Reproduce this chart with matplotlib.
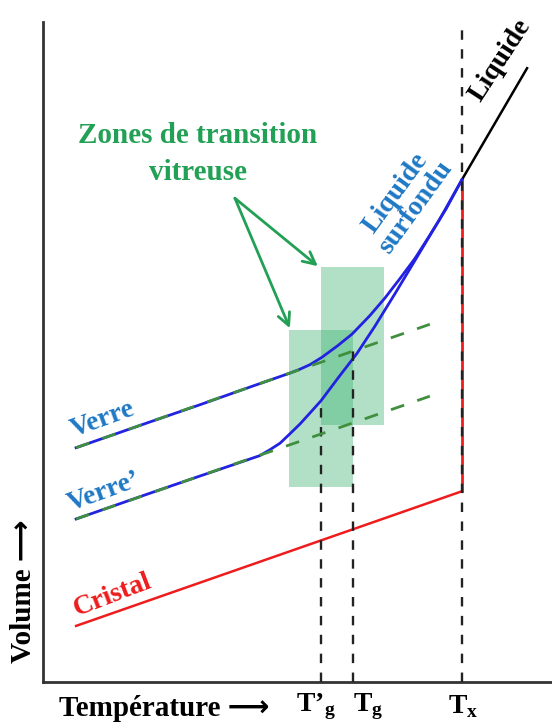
import numpy as np
import matplotlib
matplotlib.use("Agg")
import matplotlib.pyplot as plt
from matplotlib.patches import Rectangle

# values (T and V on a 0-100 scale)
T_PRIME_G = 54.6
T_G = 60.9
T_X = 82.3

# cristal line
cristal_T = [6.5, 82.3]
cristal_V = [8.5, 28.9]

# liquid line above Tx
liquide_T = [82.3, 95.1]
liquide_V = [76.1, 93.0]

# fast cooling -> Verre
verre_T = [6.5, 21.0, 30.8, 40.7, 48.5, 50.5, 52.5, 54.8, 57.8, 60.7, 64.2,
           67.2, 70.1, 73.1, 76.0, 79.2, 82.3]
verre_V = [35.5, 39.4, 42.0, 44.7, 46.8, 47.4, 48.1, 49.2, 50.9, 52.7, 55.5,
           58.2, 61.1, 64.2, 67.7, 71.7, 76.1]

# slow cooling -> Verre'
verre2_T = [6.5, 21.0, 30.8, 37.3, 40.7, 42.6, 44.6, 46.6, 48.5, 50.5, 52.5,
            54.6, 58.3, 61.7, 65.2, 69.2, 73.1, 78.0, 82.3]
verre2_V = [24.7, 28.6, 31.2, 32.9, 33.8, 34.3, 35.2, 36.2, 37.6, 39.1, 40.8,
            42.6, 46.4, 49.8, 53.9, 58.9, 63.9, 70.2, 76.1]

# extrapolated glass lines (green dashed)
glass_T = [6.5, 76.0]
glass_V = [35.5, 54.2]
glass2_V = [24.7, 43.3]

# transition zones (T0, T1, V0, V1)
zones = [(48.3, 60.9, 29.5, 53.3), (54.6, 67.0, 38.9, 62.9)]

# dashed verticals: (T, V top)
verticals = [(T_PRIME_G, 42.6), (T_G, 50.3), (T_X, 100)]
tick_pos = [53.6, 63.9, 82.5]
tick_lab = ["T\u2019$_\\mathbf{g}$", "T$_\\mathbf{g}$", "T$_\\mathbf{x}$"]

BLUE = "#2222e0"
TBLUE = "#1f78c4"
GREEN = "#22a055"
DGREEN = "#3f8f3f"
RED = "#ee1c1c"
SERIF = ["Liberation Serif", "DejaVu Sans"]

plt.rcParams["mathtext.fontset"] = "custom"
plt.rcParams["mathtext.bf"] = "Liberation Serif:bold"
plt.rcParams["mathtext.rm"] = "Liberation Serif:bold"

fig = plt.figure(figsize=(5.52, 7.22), dpi=100)
ax = fig.add_axes([43 / 552, 40 / 722, 509 / 552, 660 / 722])
ax.set_xlim(0, 100)
ax.set_ylim(0, 100)
ax.set_xticks([])
ax.set_yticks([])
for s in ["top", "right"]:
    ax.spines[s].set_visible(False)
for s in ["left", "bottom"]:
    ax.spines[s].set_linewidth(2)
    ax.spines[s].set_color("#333333")

# zones
for t0, t1, v0, v1 in zones:
    ax.add_patch(Rectangle((t0, v0), t1 - t0, v1 - v0, facecolor="#3cb371",
                           alpha=0.4, edgecolor="none", zorder=1))

# red lines
ax.plot(cristal_T, cristal_V, color=RED, lw=1.8, zorder=3)
ax.plot([T_X, T_X], [cristal_V[1], liquide_V[0]], color=RED, lw=2, zorder=3)

# dashed verticals
for t, vtop in verticals:
    ax.plot([t, t], [0, vtop], color="#222222", lw=1.7, ls=(0, (4, 4)), zorder=4,
            clip_on=False)

# liquide
ax.plot(liquide_T, liquide_V, color="black", lw=1.8, zorder=3)

# blue curves
ax.plot(verre_T, verre_V, color=BLUE, lw=2, zorder=3, solid_joinstyle="round")
ax.plot(verre2_T, verre2_V, color=BLUE, lw=2, zorder=3, solid_joinstyle="round")

# green dashed extrapolations
ax.plot(glass_T, glass_V, color=DGREEN, lw=2, ls=(0, (5, 5)), zorder=4)
ax.plot(glass_T, glass2_V, color=DGREEN, lw=2, ls=(0, (5, 5)), zorder=4)

# arrows to the zones
for xy in [(48.5, 53.6), (54.0, 63.0)]:
    ax.annotate("", xy=xy, xytext=(37.7, 73.3),
                arrowprops=dict(arrowstyle="->", color=GREEN, lw=2,
                                mutation_scale=22, shrinkA=0, shrinkB=0))

fs = 20
ax.text(30.4, 80.0, "Zones de transition\nvitreuse", color=GREEN, family=SERIF,
        weight="bold", fontsize=21, ha="center", va="center", linespacing=1.45)
ax.text(11.8, 39.7, "Verre", color=TBLUE, family=SERIF, weight="bold",
        fontsize=fs, ha="center", va="center", rotation=20)
ax.text(12.0, 28.8, "Verre\u2019", color=TBLUE, family=SERIF, weight="bold",
        fontsize=fs, ha="center", va="center", rotation=20)
ax.text(13.6, 13.2, "Cristal", color=RED, family=SERIF, weight="bold",
        fontsize=fs, ha="center", va="center", rotation=21)
ax.text(89.8, 94.2, "Liquide", color="black", family=SERIF, weight="bold",
        fontsize=fs, ha="center", va="center", rotation=57)
ax.text(71.3, 73.0, "Liquide\nsurfondu", color=TBLUE, family=SERIF, weight="bold",
        fontsize=fs, ha="center", va="center", rotation=54, linespacing=1.0)

# axis labels
ax.text(23.8, -4.0, "Température \u27f6", family=SERIF, weight="bold",
        fontsize=21, ha="center", va="center")
ax.text(-3.9, 13.8, "Volume \u27f6", family=SERIF, weight="bold",
        fontsize=21, ha="center", va="center", rotation=90)
for t, lab in zip(tick_pos, tick_lab):
    ax.text(t, -3.7, lab, family=SERIF, weight="bold", fontsize=fs,
            ha="center", va="center")

fig.savefig("out.png", dpi=100)
